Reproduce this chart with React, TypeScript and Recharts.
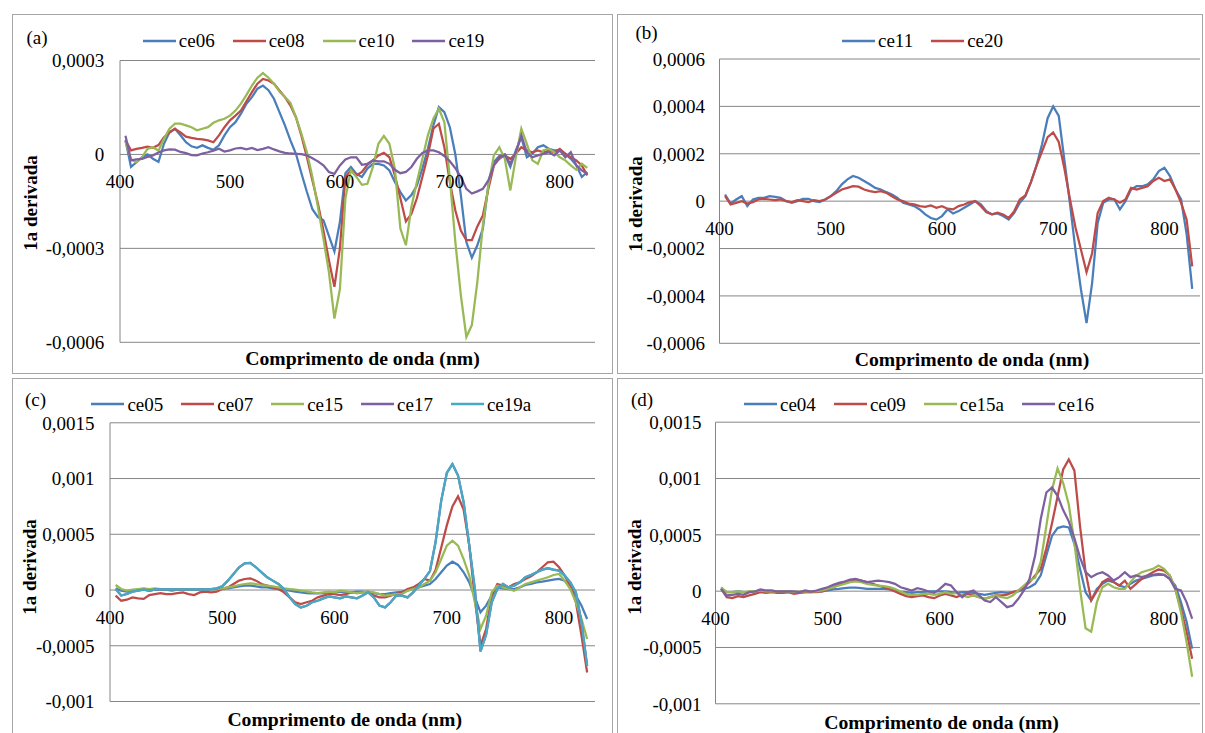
import React from "react";
import { LineChart, Line, XAxis, YAxis, CartesianGrid, ReferenceDot } from "recharts";

const FONT = "'Liberation Serif', 'Times New Roman', serif";

// wavelength (nm) of every sample
const wavelengths = [
  405, 410, 415, 420, 425, 430, 435, 440, 445, 450,
  455, 460, 465, 470, 475, 480, 485, 490, 495, 500,
  505, 510, 515, 520, 525, 530, 535, 540, 545, 550,
  555, 560, 565, 570, 575, 580, 585, 590, 595, 600,
  605, 610, 615, 620, 625, 630, 635, 640, 645, 650,
  655, 660, 665, 670, 675, 680, 685, 690, 695, 700,
  705, 710, 715, 720, 725, 730, 735, 740, 745, 750,
  755, 760, 765, 770, 775, 780, 785, 790, 795, 800,
  805, 810, 815, 820, 825,
];

// all series below are in units of 1e-5
const UNIT = 1e-5;

// (a)
const ce06 = [
  4.5, -4, -2.5, -0.9, 0, -1.4, -2.4, 3.4, 7.1, 8.2,
  6.1, 3.9, 2.6, 2.1, 2.9, 2.1, 1.5, 2.9, 6.1, 8.7,
  10.3, 13, 16.2, 18.3, 21, 22, 20.5, 17.8, 13.5, 9.3,
  4.5, 0.2, -6, -12, -17.5, -20, -21, -26, -31, -21.6,
  -6, -4, -6.2, -7.2, -4.5, -3, -3, -3.5, -5.1, -8.8,
  -12, -14.7, -13, -9.9, -4.5, 1.8, 9.3, 15.1, 13.5, 8.7,
  0, -13, -28, -33, -29, -23.7, -9.9, -2.4, -0.5, 0,
  -4, 1.3, 5.5, -0.9, 0.2, 2.3, 2.9, 1.8, 1.3, 1.3,
  0.2, -1.4, -3.5, -7.2, -5.6,
];
const ce08 = [
  4.5, 1.3, 1.8, 2.1, 2.5, 2.1, 3, 5.5, 7, 8.2,
  7, 5.7, 5.3, 5, 4.8, 4.5, 3.9, 6.1, 8.7, 10.9,
  12.4, 14, 17, 19.9, 22.6, 24.1, 23.6, 22.6, 20.4, 18.3,
  15.6, 11.9, 6, -0.9, -8.3, -15.7, -24.3, -33.8, -42.3, -30,
  -7.2, -5.1, -6.7, -5.6, -3.3, -1.9, -0.3, 0.5, -0.9, -6.7,
  -14, -21.4, -19, -14, -7.2, -0.3, 8.2, 9.8, 2.3, -8.8,
  -17.9, -24.3, -27.4, -27.4, -23, -19.5, -11, -3.5, -0.9, -0.3,
  -1.4, 0.2, 2.3, 1.3, 0.7, 1.3, 0.7, 1.3, 0.7, 1.8,
  0.2, -0.9, -1.9, -3.5, -6.7,
];
const ce10 = [
  4, -1.5, -2.5, -0.9, 1.8, 2.3, 1.2, 5, 8.2, 9.8,
  9.8, 9.3, 8.7, 7.7, 8.2, 8.7, 10.1, 10.9, 11.4, 12.4,
  14, 16.2, 19, 22, 24.5, 26, 24.5, 22.6, 20.1, 18.3,
  16.5, 11.9, 6.6, 0.7, -7.2, -16.8, -26.9, -37.6, -52.4, -43,
  -14, -5.1, -7.2, -9.7, -9.4, -4, 3.4, 5.9, 3.4, -4.6,
  -23.7, -29, -16.8, -8.8, -1.4, 6.1, 11.4, 14.6, 10.3, -7.8,
  -28, -45, -58.3, -54.5, -40.7, -22.7, -9.9, -0.3, 2.3, -1.4,
  -11.5, -0.9, 8.2, 3.4, -1.9, -3, 1.3, 1.8, 0.7, -0.9,
  -1.9, -3.5, -4.9, -3, -4.3,
];
const ce19 = [
  6, -1.9, -1.6, -1.4, -0.8, -0.3, 0.6, 1.3, 1.6, 1.5,
  0.8, 0.4, -0.2, -0.3, 0.3, 0.7, 1.2, 1.8, 0.9, 1.3,
  1.9, 2.1, 1.6, 2.1, 1.4, 1.8, 2.3, 1.6, 1, 0.5,
  0.3, 0.2, 0.1, -0.3, -1.2, -2.2, -3.5, -5.6, -6.2, -3.5,
  -1.6, -0.9, -0.9, -3.3, -3, -1.9, -2.2, -2.2, -3, -4.9,
  -6, -5.6, -4, -1.4, 0.5, 1.3, 1.3, 0.7, -0.5, -2.2,
  -4.4, -7.2, -11, -12.5, -11.8, -11, -8.3, -3.5, -1.4, -0.1,
  -3, 0.7, 6.1, 0.7, -0.9, -0.3, 0.2, 0.7, -0.3, 1.3,
  -0.9, 0.7, -3.5, -5.1, -6.2,
];

// (b)
const ce11 = [
  2.8, -1, 0.7, 2.1, -2.1, 0.7, 1.4, 1.4, 2.1, 1.8,
  1.4, 0, -0.7, 0, 1, 1, 0, -0.4, 0.7, 2.1,
  4.2, 7.1, 9.2, 10.6, 9.9, 8.5, 7.1, 5.6, 4.9, 3.8,
  2.8, 1.4, -0.7, -1.4, -2.1, -3.5, -5.6, -7.1, -7.8, -6.3,
  -3.5, -5.2, -4.2, -2.8, -1.4, 0, -1.4, -4.2, -5.6, -5.2,
  -6.3, -7.8, -4.9, -0.7, 2.1, 8, 15, 24, 35, 40,
  36, 17.6, -0.7, -20.5, -37.4, -51.5, -34.6, -9.2, -0.7, 0.7,
  0.7, -3.5, 0, 4.9, 6.3, 6.3, 7.1, 9.2, 12.7, 14.1,
  10.6, 4.9, 0.7, -14, -37,
];
const ce20 = [
  2.1, -1.4, -0.7, 0, -1, -0.4, 0.7, 1, 0.7, 0.4,
  0.7, 0, -0.4, 0.4, 0, -0.4, 0.4, 0, 0.7, 2.1,
  3.5, 4.9, 5.6, 6.3, 6.1, 4.9, 4.2, 3.8, 4.2, 3.5,
  2.1, 0.7, 0, -1, -1.4, -2.1, -2.4, -1.8, -2.8, -2.1,
  -3.2, -3.5, -2.1, -1.4, -0.4, 0, -2.1, -4.7, -5.6, -4.9,
  -5.6, -7.1, -4.2, 0.7, 2.4, 8, 15, 21, 27, 29,
  25, 14, 1, -11, -20.5, -30, -22, -5, 0, 1.4,
  0.7, -0.7, 0.7, 5.6, 4.9, 5.6, 6.3, 8.5, 9.9, 8.5,
  9.2, 4.9, -0.7, -7.8, -27.5,
];

// (c)
const ce05 = [
  1.5, -0.6, -1.5, -0.6, 0.3, 0.3, -0.6, 0.3, 0.3, 0.3,
  -0.6, 0.3, 0.3, 0.3, 0.3, 0.3, 0.3, 0.9, 0.9, 1.5,
  1.5, 2.4, 3.3, 3.9, 3.9, 3.3, 2.4, 2.4, 1.5, 0.9,
  0.3, -0.6, -1.5, -2.1, -2.7, -3, -3, -2.7, -2.1, -2.1,
  -1.5, -2.1, -2.1, -1.5, -1.5, -2.1, -2.7, -3.6, -3.6, -2.7,
  -2.1, -1.5, -0.6, 0.9, 2.4, 3.9, 5.4, 9.9, 15.9, 21.9,
  25.4, 22.5, 15.9, 6.9, -6.6, -20, -14, -5, 2.4, 1.5,
  0.9, 0.9, 2.4, 4.5, 5.4, 6.9, 7.5, 8.4, 9.3, 9.9,
  8.4, 2.4, -5, -14, -26,
];
const ce07 = [
  -5, -9.6, -8.7, -6.6, -7.5, -8, -4.5, -3.6, -2.7, -3.6,
  -3.6, -2.7, -2.1, -3.6, -4.5, -2.1, -1.5, -2.1, -1.5, 0.9,
  2.4, 5.4, 8.4, 9.9, 10.5, 8.4, 5.4, 3.9, 2.4, 0.9,
  -2.1, -6.6, -11, -12.6, -11, -9.6, -6.6, -5, -3.6, -3.6,
  -4.5, -3.6, -2.1, -2.7, -2.1, -1.5, -5, -6.6, -6.6, -5,
  -3.6, -2.1, 0.9, 2.4, 5.4, 9.9, 8.4, 18, 38, 58,
  75, 84, 72, 40, -8, -50, -35, -5, 5.4, 3.9,
  2.4, 5.4, 6.9, 9.9, 12.3, 15.9, 20.4, 24.9, 25.4, 20.4,
  12.9, 3.9, -11, -41, -74,
];
const ce15 = [
  4.5, 0.9, -0.6, 0.3, 0.9, 1.5, 0.9, 1.5, 0.9, 0.9,
  0.3, 0.9, 0.3, 0.3, 0.9, 0.3, 0.3, 0.9, 0.9, 1.5,
  2.4, 3.3, 4.5, 5.4, 6, 5.4, 4.5, 3.9, 3.3, 2.4,
  1.5, 0.9, 0.3, -0.6, -1.2, -2.1, -2.7, -2.1, -1.5, -2.1,
  -0.6, -1.2, -2.1, -2.7, -2.1, -1.5, -2.1, -3.6, -5, -4.5,
  -3.6, -3.6, -0.6, 0.9, 2.4, 5.4, 8.4, 15.9, 27.8, 39.8,
  44.3, 39.8, 27.8, 12.9, -11, -35, -23, -2.1, 3.9, 2.4,
  0.9, -0.6, 2.4, 5.4, 6.9, 8.4, 9.9, 11.4, 13.5, 14.4,
  8.4, 0.9, -11, -26, -44,
];
const ce19a = [
  0.9, -5, -3.6, -1.5, -0.6, 0.3, -0.6, 0.3, 0.9, 0.3,
  0.9, 0.3, 0.3, 0.9, 0.3, 0.9, 0.3, 0.9, 1.5, 3.3,
  8.4, 14.4, 20.4, 24, 24.3, 20.4, 15.9, 11.4, 8.4, 5.4,
  0.9, -6.6, -12.6, -15.6, -14.1, -11, -9.6, -7.5, -5.7, -6.6,
  -7.5, -5.7, -6.6, -7.5, -5, -2.1, -6.6, -14, -15.6, -11,
  -5, -5, -6.6, -2.1, 3.9, 10, 17, 43, 80, 105,
  113, 102.7, 78.7, 39.8, 0.9, -55, -40, -11, 0.9, 5.4,
  2.4, 3.9, 6.9, 11.4, 13.5, 15.9, 18.3, 19.5, 18.3, 17.4,
  12.9, 6.9, -2.1, -29, -68,
];
// ce17 cannot be seen in the picture: it lies under ce19a
const ce17 = ce19a;

// (d)
const ce04 = [
  2.7, -0.9, -0.9, -0.3, -0.9, -0.9, -0.3, -0.3, -0.3, -0.3,
  -0.9, -0.9, -0.9, -0.9, -0.9, -0.9, -0.9, -0.3, -0.3, 0.6,
  1.5, 2, 2.7, 3.2, 3.2, 2.7, 2, 2, 2, 2,
  1.5, 0.6, -0.3, -0.9, -1.5, -0.9, -0.9, -0.3, -0.3, -0.3,
  -0.3, -0.9, -1.5, -0.9, -0.9, -1.5, -2.4, -3.2, -2.4, -1.5,
  -0.9, -1.5, -0.9, -0.3, 2, 3.5, 6.5, 14, 31.6, 49,
  56, 57.5, 56.6, 42, 20, -1, -8.3, 2, 6.5, 9.4,
  8, 5, 3.5, 6.5, 9.4, 10.9, 12.4, 13.9, 14.5, 14.5,
  10.9, 5, -9.7, -27, -51,
];
const ce09 = [
  2, -5.3, -6.2, -4.4, -5.3, -3.8, -2.4, -0.9, -1.5, -0.9,
  -1.5, -1.5, -0.9, -2.4, -1.5, -0.9, -0.9, -0.9, -0.3, 1.5,
  3.5, 5.6, 7.4, 9.4, 10.3, 9.4, 8, 6.5, 5, 3.5,
  2, -0.3, -2.4, -4.4, -5.3, -4.4, -3.8, -5.3, -6.2, -3.8,
  -2.4, -3.8, -5.3, -3.2, -2.4, -3.8, -5.3, -6.8, -5.3, -3.8,
  -3.8, -3.2, -0.9, 0.6, 3.5, 8, 13.9, 19.8, 38, 60,
  84, 108, 117, 107, 58, 17, -8, 0, 8, 10.9,
  8, 5, 9.4, 2, 6.5, 10.9, 13.9, 16.8, 19.2, 18.3,
  13.9, 2, -15.6, -36, -60,
];
const ce15a = [
  3.5, -0.9, -0.9, -0.3, -0.9, -0.3, -0.3, 0.6, -0.3, -0.3,
  -0.3, -0.3, -0.3, -0.9, -0.3, -0.3, -0.3, -0.3, 0.6, 2,
  3.5, 5, 6.5, 8, 8.6, 8, 6.5, 5.6, 5, 4.4,
  3.5, 2, -0.3, -2.4, -3.2, -3.2, -2.4, -2.4, -3.2, -2.4,
  -0.9, -2.4, -1.5, -3.8, -5.3, -3.8, -5.3, -6.8, -5.3, -3.8,
  -5.3, -6.2, -3.8, 0.6, 5, 9.4, 12, 26, 58, 90,
  109, 96, 77, 43, 2, -33, -36, -10, 3.5, 6.5,
  3.5, 2, 2, 8, 13.9, 16.8, 18.3, 19.8, 22.7, 19.8,
  13.9, 2, -18.6, -45, -76,
];
const ce16 = [
  2, -3.8, -3.2, -2.4, -3.2, -0.9, -0.3, 1.5, 0.6, 0.6,
  -0.3, -0.3, -0.3, -0.3, -0.9, 0.6, -0.3, 0.6, 2, 3.5,
  5.6, 7.4, 8.6, 10.3, 10.9, 9.4, 8, 8.6, 9.4, 8.8,
  8, 6.5, 3.5, 2, 0.6, 2.7, 1.5, -0.3, -1.5, 2,
  6.5, 5, -0.9, -5.3, -0.9, 0.6, -3.8, -8.3, -9.7, -5.3,
  -9.7, -14.2, -12.7, -6.8, 0.6, 10.9, 31.6, 64, 87.6, 92,
  84.7, 72, 62, 47, 30, 17, 12.4, 15.3, 16.8, 13.9,
  9.4, 12.4, 16.8, 12.4, 13.9, 12.4, 13.9, 14.5, 15.3, 14.5,
  10.9, 2, 0.6, -9.7, -24.5,
];

const xTicks = [400, 500, 600, 700, 800];
const xDomain = [400, 832];
const yTicksA = [-0.0006, -0.0003, 0, 0.0003];
const yTicksB = [-0.0006, -0.0004, -0.0002, 0, 0.0002, 0.0004, 0.0006];
const yTicksCD = [-0.001, -0.0005, 0, 0.0005, 0.001, 0.0015];

const BLUE = "#4A7EBB";
const RED = "#BE4B48";
const GREEN = "#98B954";
const PURPLE = "#7D60A0";
const CYAN = "#46AAC5";

const panels = [
  {
    letter: "(a)",
    series: [
      { name: "ce06", values: ce06, color: BLUE },
      { name: "ce08", values: ce08, color: RED },
      { name: "ce10", values: ce10, color: GREEN },
      { name: "ce19", values: ce19, color: PURPLE },
    ],
    yTicks: yTicksA,
    box: { left: 12, top: 14, width: 601, height: 360 },
    margin: { top: 46.5, right: 18, bottom: 31.7, left: 48 },
    tickMargin: 15.7,
    legend: { left: 142.8, cy: 40.7 },
    letterAt: { x: 37, y: 37 },
    yTitleAt: { x: 30, y: 202.5 },
    xTitleAt: { x: 362.5, y: 358.7 },
  },
  {
    letter: "(b)",
    series: [
      { name: "ce11", values: ce11, color: BLUE },
      { name: "ce20", values: ce20, color: RED },
    ],
    yTicks: yTicksB,
    box: { left: 617, top: 14, width: 586, height: 360 },
    margin: { top: 45, right: 3, bottom: 30.7, left: 42.5 },
    tickMargin: 14.5,
    legend: { left: 842, cy: 40.7 },
    letterAt: { x: 646.5, y: 32 },
    yTitleAt: { x: 635, y: 204 },
    xTitleAt: { x: 972, y: 359.7 },
  },
  {
    letter: "(c)",
    series: [
      { name: "ce05", values: ce05, color: BLUE },
      { name: "ce07", values: ce07, color: RED },
      { name: "ce15", values: ce15, color: GREEN },
      { name: "ce17", values: ce17, color: PURPLE },
      { name: "ce19a", values: ce19a, color: CYAN },
    ],
    yTicks: yTicksCD,
    box: { left: 12, top: 377.5, width: 601, height: 360 },
    margin: { top: 44.8, right: 18, bottom: 36.5, left: 38 },
    tickMargin: 15.5,
    legend: { left: 91.4, cy: 404.3 },
    letterAt: { x: 35.6, y: 398.5 },
    yTitleAt: { x: 29, y: 567 },
    xTitleAt: { x: 344.7, y: 719.7 },
  },
  {
    letter: "(d)",
    series: [
      { name: "ce04", values: ce04, color: BLUE },
      { name: "ce09", values: ce09, color: RED },
      { name: "ce15a", values: ce15a, color: GREEN },
      { name: "ce16", values: ce16, color: PURPLE },
    ],
    yTicks: yTicksCD,
    box: { left: 617, top: 377.5, width: 586, height: 360 },
    margin: { top: 44.2, right: 3, bottom: 34.2, left: 38.5 },
    tickMargin: 14,
    legend: { left: 744, cy: 404.3 },
    letterAt: { x: 642, y: 398.5 },
    yTitleAt: { x: 634, y: 567 },
    xTitleAt: { x: 941.6, y: 723 },
  },
];

const fmt = (v: number) => (v === 0 ? "0" : String(v).replace(".", ","));

const centered = (x: number, y: number, extra: React.CSSProperties = {}): React.CSSProperties => ({
  position: "absolute",
  left: x,
  top: y,
  transform: "translate(-50%, -50%)",
  whiteSpace: "nowrap",
  fontFamily: FONT,
  color: "#000",
  lineHeight: 1,
  ...extra,
});

function Panel({ cfg }: { cfg: any }) {
  const data = wavelengths.map((wl, i) => {
    const row: any = { wl };
    cfg.series.forEach((s: any) => {
      row[s.name] = s.values[i] * UNIT;
    });
    return row;
  });
  const { left, top, width, height } = cfg.box;
  const yt = cfg.yTicks;

  return (
    <>
      <div
        style={{
          position: "absolute", left, top, width, height,
          border: "1px solid #A6A6A6", boxSizing: "border-box", background: "#fff",
        }}
      />
      <div style={{ position: "absolute", left, top }}>
        <LineChart width={width} height={height} data={data} margin={cfg.margin}>
          <CartesianGrid vertical={false} stroke="#868686" />
          <XAxis type="number" dataKey="wl" domain={xDomain} hide />
          <YAxis
            type="number"
            domain={[yt[0], yt[yt.length - 1]]}
            ticks={yt}
            interval={0}
            width={60}
            axisLine={{ stroke: "#868686" }}
            tickLine={false}
            tickSize={0}
            tickMargin={cfg.tickMargin}
            tick={{ fill: "#000", fontSize: 19, fontFamily: FONT }}
            tickFormatter={fmt}
          />
          {xTicks.map((t) => (
            <ReferenceDot
              key={t}
              x={t}
              y={0}
              r={0}
              fill="none"
              stroke="none"
              label={{ value: String(t), position: "bottom", offset: 20, fill: "#000", fontSize: 19, fontFamily: FONT }}
            />
          ))}
          {cfg.series.map((s: any) => (
            <Line
              key={s.name}
              type="linear"
              dataKey={s.name}
              stroke={s.color}
              strokeWidth={2.25}
              dot={false}
              activeDot={false}
              isAnimationActive={false}
            />
          ))}
        </LineChart>
      </div>
      <div
        style={{
          position: "absolute", left: cfg.legend.left, top: cfg.legend.cy - 9.5,
          display: "flex", alignItems: "center", fontFamily: FONT, fontSize: 19,
          lineHeight: "19px", whiteSpace: "nowrap", color: "#000",
        }}
      >
        {cfg.series.map((s: any) => (
          <div key={s.name} style={{ display: "flex", alignItems: "center", marginRight: 18 }}>
            <svg width={33} height={4} style={{ marginRight: 3 }}>
              <line x1={0} y1={2} x2={33} y2={2} stroke={s.color} strokeWidth={2.5} />
            </svg>
            <span>{s.name}</span>
          </div>
        ))}
      </div>
      <div style={centered(cfg.letterAt.x, cfg.letterAt.y, { fontSize: 19 })}>{cfg.letter}</div>
      <div
        style={{
          ...centered(cfg.yTitleAt.x, cfg.yTitleAt.y, { fontSize: 19, fontWeight: "bold" }),
          transform: "translate(-50%, -50%) rotate(-90deg)",
        }}
      >
        1a derivada
      </div>
      <div style={centered(cfg.xTitleAt.x, cfg.xTitleAt.y, { fontSize: 19.7, fontWeight: "bold" })}>
        Comprimento de onda (nm)
      </div>
    </>
  );
}

export default function App() {
  return (
    <div
      style={{
        position: "absolute", left: 0, top: 0, width: 1205, height: 733,
        overflow: "hidden", background: "#fff",
      }}
    >
      {panels.map((p) => (
        <Panel key={p.letter} cfg={p} />
      ))}
    </div>
  );
}
